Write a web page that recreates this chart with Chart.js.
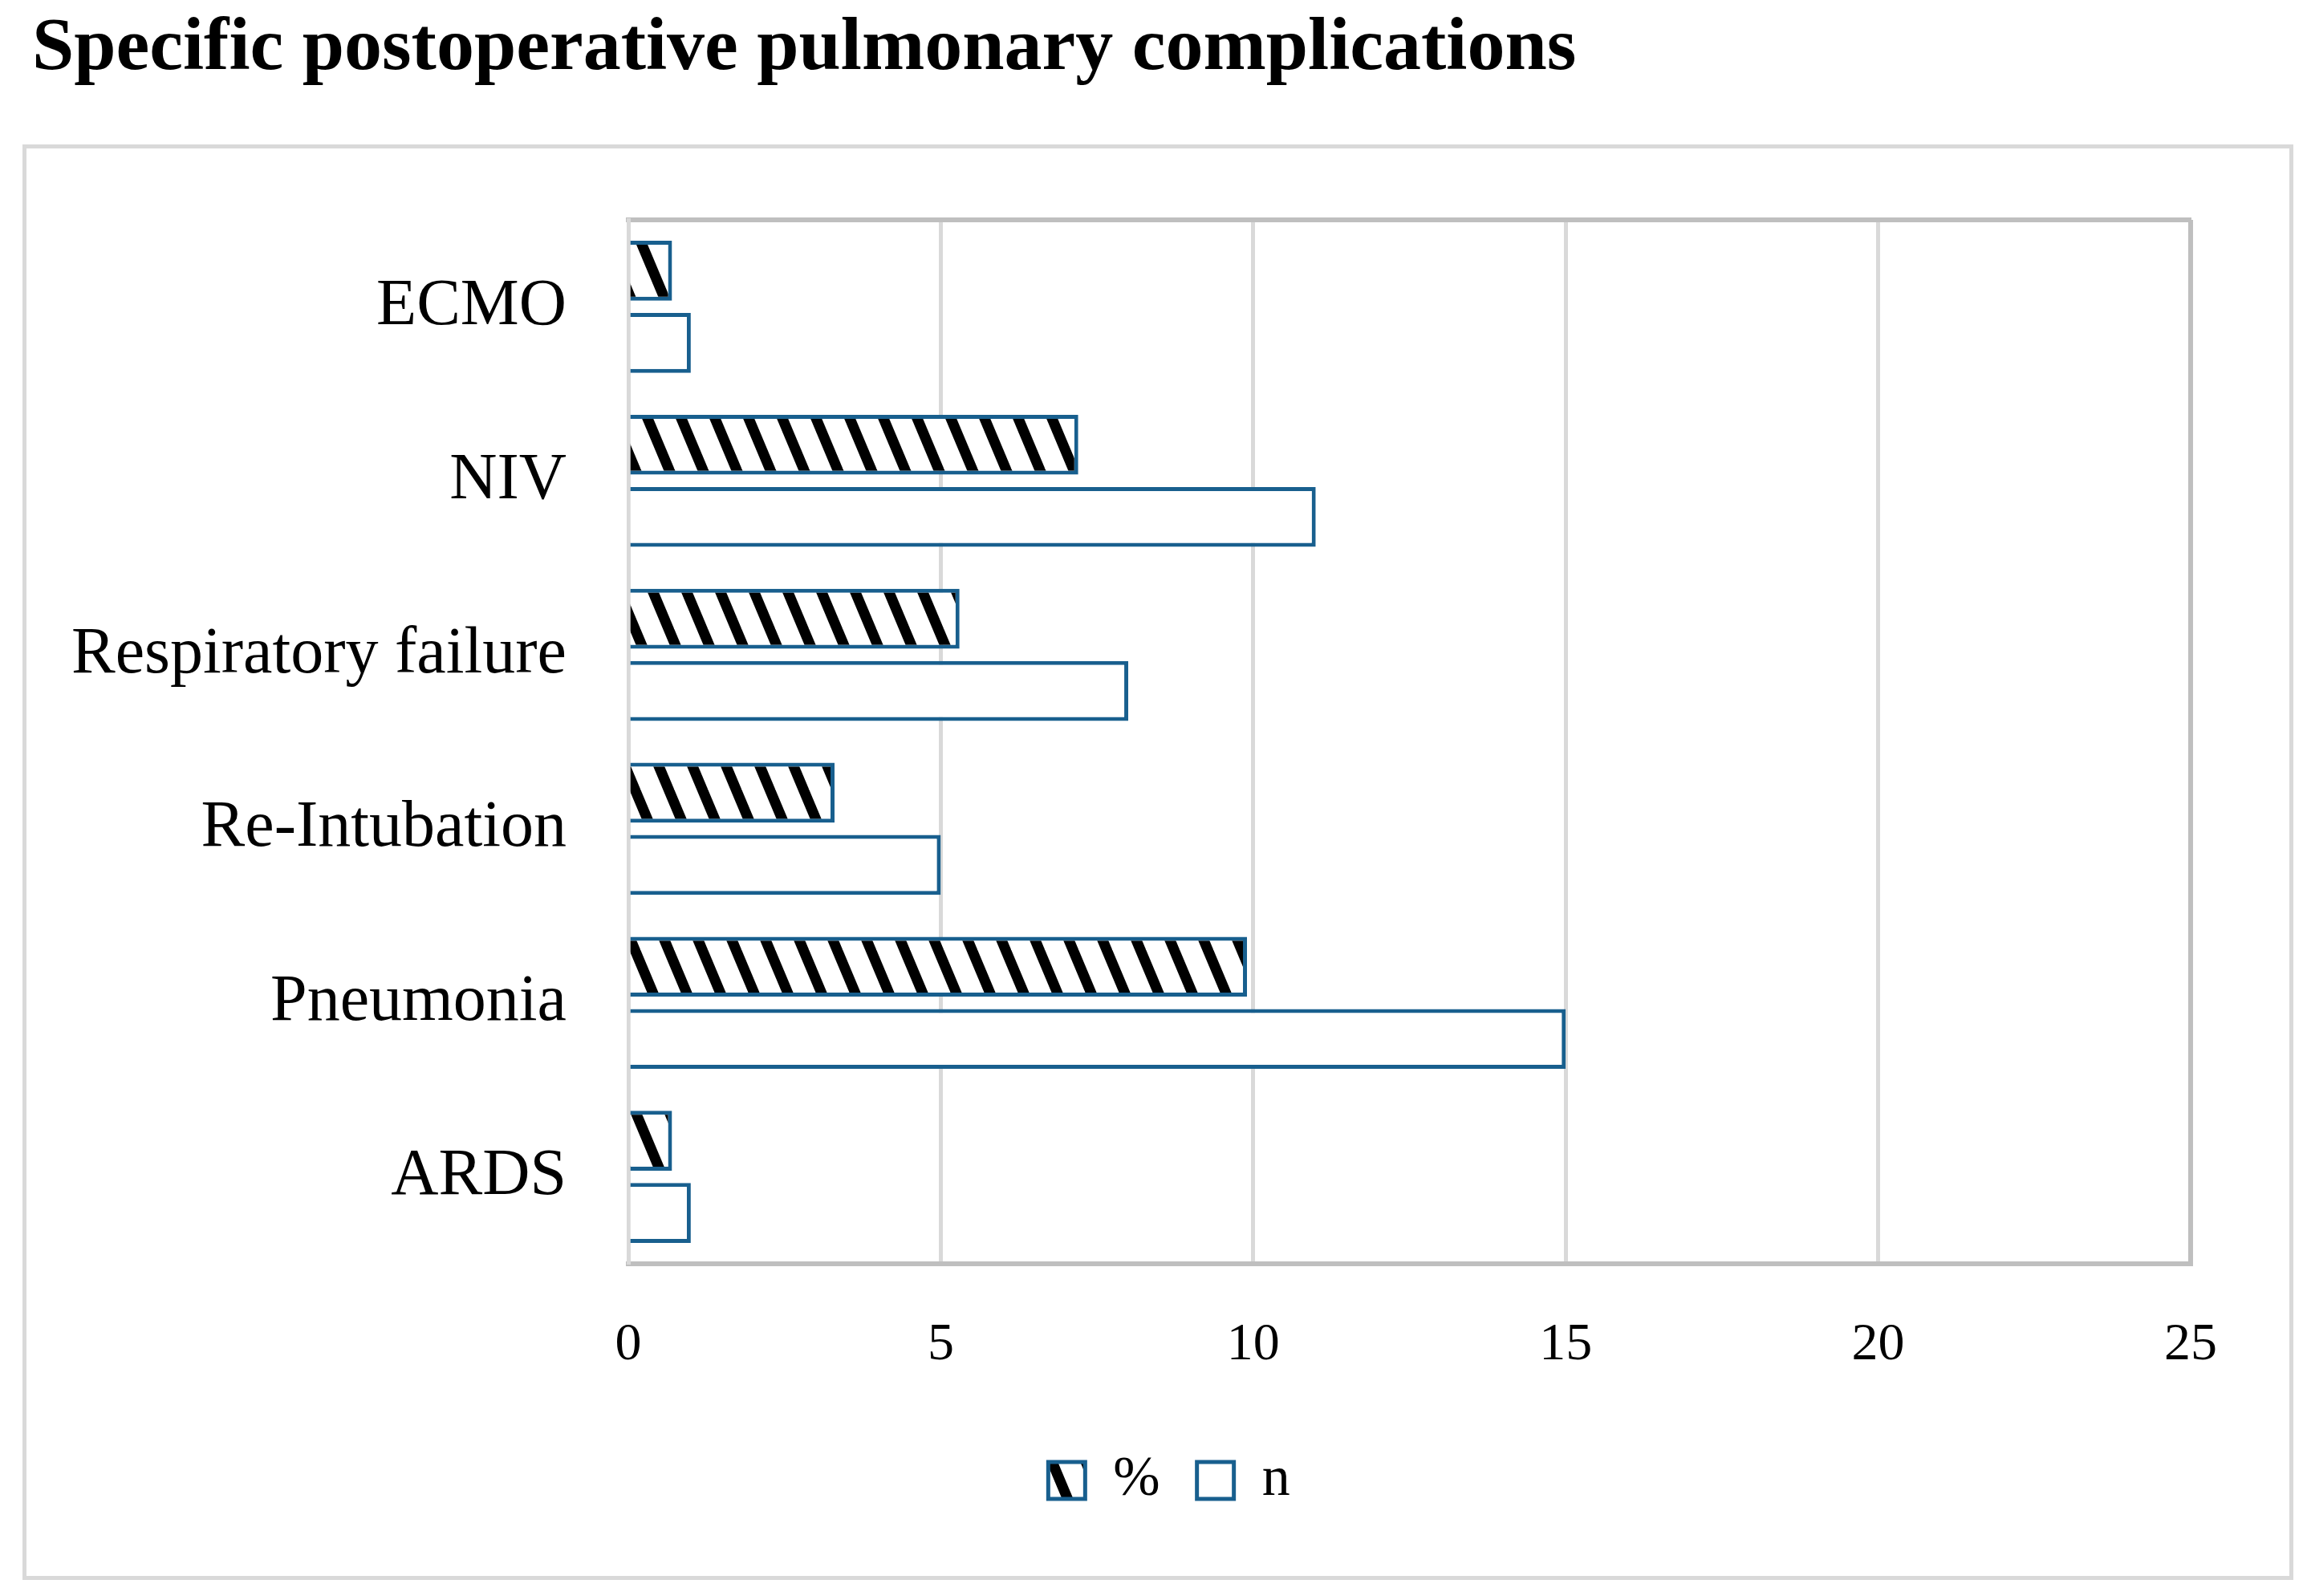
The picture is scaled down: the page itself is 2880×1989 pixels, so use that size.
<!DOCTYPE html>
<html>
<head>
<meta charset="utf-8">
<script src="https://cdn.jsdelivr.net/npm/chart.js@4.4.1/dist/chart.umd.min.js"></script>
<style>
html, body { margin: 0; padding: 0; background: #fff; }
body { width: 2880px; height: 1989px; position: relative; overflow: hidden; }
#title { position: absolute; left: 40px; top: 7px; font: bold 94px "Liberation Serif", serif; line-height: 1; white-space: nowrap; color: #000; }
#frame { position: absolute; left: 28px; top: 180px; width: 2820px; height: 1779px; border: 5px solid #d9d9d9; }
#wrap { position: absolute; left: 0; top: 0; width: 2880px; height: 1989px; }
</style>
</head>
<body>
<div id="title">Specific postoperative pulmonary complications</div>
<div id="frame"></div>
<div id="wrap"><canvas id="barChart"></canvas></div>
<script>
const categories = ['ECMO', 'NIV', 'Respiratory failure', 'Re-Intubation', 'Pneumonia', 'ARDS'];
const percentValues = [0.7, 7.2, 5.3, 3.3, 9.9, 0.7];
const countValues = [1, 11, 8, 5, 15, 1];
const xTicks = [0, 5, 10, 15, 20, 25];

const blue = '#185f8e';

// black "\" stripes on white, like the excel pattern fill
function makeHatch() {
    const w = 42, h = 100;
    const c = document.createElement('canvas');
    c.width = w;
    c.height = h;
    const g = c.getContext('2d');
    g.fillStyle = '#fff';
    g.fillRect(0, 0, w, h);
    g.strokeStyle = '#000';
    g.lineWidth = 13;
    for (let k = -1; k <= 1; k++) {
        g.beginPath();
        g.moveTo(k * w - w * 0.5, -h * 0.5);
        g.lineTo(k * w + w * 1.5, h * 1.5);
        g.stroke();
    }
    return g.createPattern(c, 'repeat');
}

Chart.defaults.font.family = '"Liberation Serif", serif';
Chart.defaults.color = '#000';

const ctx = document.getElementById('barChart');

new Chart(ctx, {
    type: 'bar',
    data: {
        labels: categories,
        datasets: [{
            label: '%',
            data: percentValues,
            backgroundColor: makeHatch(),
            borderColor: blue,
            borderWidth: 5,
            categoryPercentage: 0.83,
            barPercentage: 0.83
        }, {
            label: 'n',
            data: countValues,
            backgroundColor: '#fff',
            borderColor: blue,
            borderWidth: 5,
            categoryPercentage: 0.83,
            barPercentage: 0.83
        }]
    },
    options: {
        indexAxis: 'y',
        responsive: true,
        maintainAspectRatio: false,
        devicePixelRatio: 1,
        animation: false,
        layout: {
            padding: { top: 274, right: 0, bottom: 99, left: 34 }
        },
        plugins: {
            tooltip: { enabled: false },
            legend: {
                position: 'bottom',
                labels: {
                    font: { size: 70 },
                    boxWidth: 46,
                    boxHeight: 46,
                    padding: 46
                }
            }
        },
        scales: {
            x: {
                min: 0,
                max: 25,
                afterBuildTicks: (scale) => { scale.ticks = xTicks.map(v => ({ value: v })); },
                afterFit: (scale) => { scale.height = 189; },
                ticks: { font: { size: 66 }, padding: 62 },
                grid: {
                    drawTicks: false,
                    lineWidth: (c) => c.tick && c.tick.value === 25 ? 6 : 5,
                    color: (c) => c.tick && c.tick.value === 25 ? '#bfbfbf' : '#d9d9d9'
                },
                border: { color: '#bfbfbf', width: 6 }
            },
            x2: {
                type: 'linear',
                position: 'top',
                min: 0,
                max: 25,
                afterFit: (scale) => { scale.height = 0; },
                ticks: { display: false },
                grid: { display: false },
                border: { color: '#bfbfbf', width: 6 }
            },
            y: {
                afterFit: (scale) => { scale.width = 749; },
                ticks: { font: { size: 82 }, padding: 69 },
                grid: { display: false },
                border: { color: '#d9d9d9', width: 5 }
            },
            // empty right axis, keeps the plot clear of the frame
            y2: {
                type: 'linear',
                position: 'right',
                afterFit: (scale) => { scale.width = 150; },
                ticks: { display: false },
                grid: { display: false },
                border: { display: false }
            }
        }
    }
});
</script>
</body>
</html>
